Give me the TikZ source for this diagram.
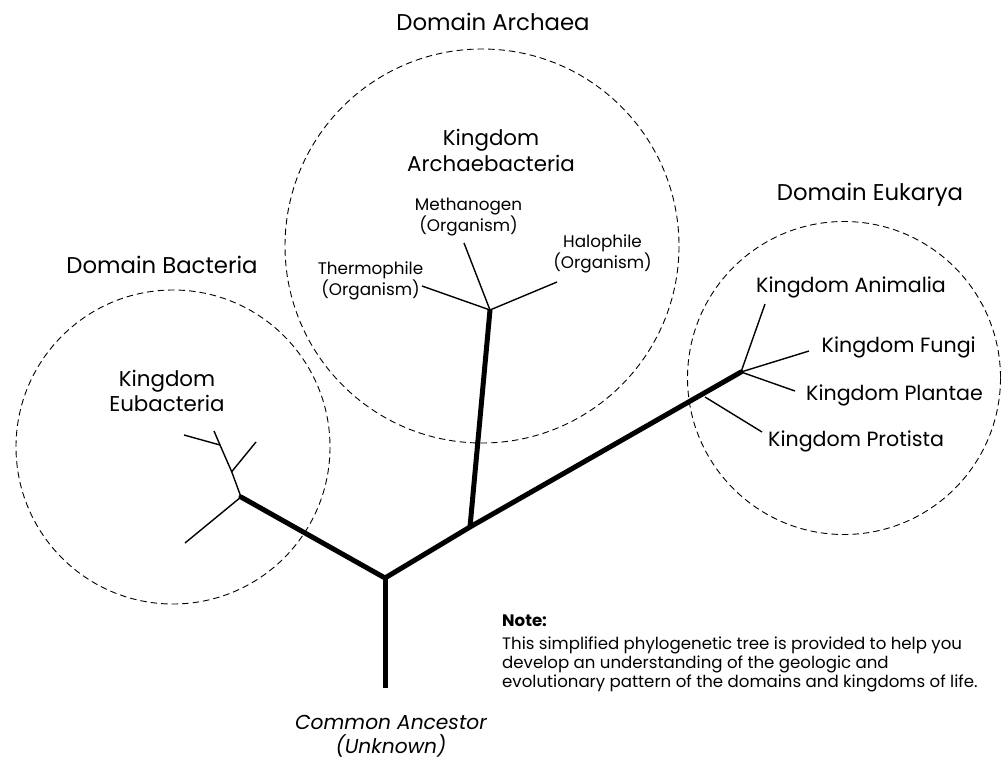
\documentclass[tikz,border=0pt]{standalone}
\usepackage{fontspec}
\setmainfont{Poppins}
\begin{document}
\begin{tikzpicture}[x=1pt,y=-1pt,
  thickline/.style={line width=5pt,line cap=round,line join=round},
  thinline/.style={line width=1.4pt},
  domaincircle/.style={draw,line width=0.9pt,dash pattern=on 6.5pt off 4pt},
  big/.style={font=\fontsize{22.8}{26}\selectfont,inner sep=0pt},
  kingdom/.style={font=\fontsize{20.6}{24}\selectfont,inner sep=0pt},
  small/.style={font=\fontsize{16.8}{21}\selectfont,align=center,inner sep=0pt},
  label/.style={font=\fontsize{21.4}{25.5}\selectfont,align=center,inner sep=0pt}]
\useasboundingbox (0,0) rectangle (1003,760);
% circles
\draw[domaincircle] (173,447) circle (157);
\draw[domaincircle] (482,246) circle (197);
\draw[domaincircle] (844,378) circle (156.5);
% tree coordinates
\coordinate (root) at (385,688);
\coordinate (j0) at (385,578);
\coordinate (jb) at (241,497);
\coordinate (ja) at (470,527);
\coordinate (je) at (741,372);
\coordinate (jp) at (705,397);
\coordinate (at) at (490,310);
\coordinate (b1) at (231.7,471.7);
\coordinate (b2) at (220,445);
\coordinate (btop) at (214,431);
\coordinate (bl) at (185,543);
\coordinate (br1) at (256,442);
\coordinate (bl2) at (184,435);
\coordinate (meth) at (464,243);
\coordinate (therm) at (422,286);
\coordinate (halo) at (557,282);
\coordinate (anim) at (765,304);
\coordinate (fung) at (809,351);
\coordinate (plan) at (795,391);
\coordinate (prot) at (762,432);
% thick lines
\draw[thickline,line cap=butt] (root) -- (j0);
\draw[thickline] (jb) -- (j0) -- (ja) -- (je);
\draw[thickline,line cap=butt] (ja) -- (at);
% thin lines
\draw[thinline] (jb) -- (bl);
\draw[thinline] (jb) -- (b1) -- (b2) -- (btop);
\draw[thinline] (b1) -- (br1);
\draw[thinline] (b2) -- (bl2);
\draw[thinline] (at) -- (meth);
\draw[thinline] (at) -- (therm);
\draw[thinline] (at) -- (halo);
\draw[thinline] (je) -- (anim);
\draw[thinline] (je) -- (fung);
\draw[thinline] (je) -- (plan);
\draw[thinline] (jp) -- (prot);
% labels
\node[big] (dA) at (493,22) {Domain Archaea};
\node[big] (dB) at (162,265) {Domain Bacteria};
\node[big] (dE) at (870,195) {Domain Eukarya};
\node[label] (kA) at (491,150.5) {Kingdom\\Archaebacteria};
\node[label] (kE) at (167,391) {Kingdom\\Eubacteria};
\node[small] (mO) at (468.5,217.5) {Methanogen\\(Organism)};
\node[small] (tO) at (370.5,280.5) {Thermophile\\(Organism)};
\node[small] (hO) at (602.5,254) {Halophile\\(Organism)};
\node[kingdom,anchor=west] (kAn) at (756,287) {Kingdom Animalia};
\node[kingdom,anchor=west] (kF) at (821.5,347) {Kingdom Fungi};
\node[kingdom,anchor=west] (kP) at (806,395) {Kingdom Plantae};
\node[kingdom,anchor=west] (kPr) at (768,441.5) {Kingdom Protista};
\node[font=\fontsize{20.2}{24}\selectfont\itshape,align=center,inner sep=0pt,anchor=base] (ca) at (391,753.5) {Common Ancestor\\(Unknown)};
\node[anchor=base west,inner sep=0pt,font=\fontsize{16.6}{19}\selectfont\bfseries] (notehead) at (502,626) {Note:};
\node[anchor=base west,align=left,inner sep=0pt,font=\fontsize{16.6}{19}\selectfont] (note) at (502,687)
 {This simplified phylogenetic tree is provided to help you\\develop an understanding of the geologic and\\evolutionary pattern of the domains and kingdoms of life.};
\end{tikzpicture}
\end{document}
